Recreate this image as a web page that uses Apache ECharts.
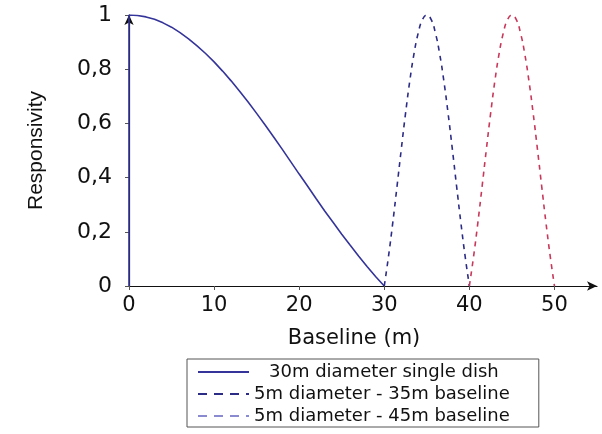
<!DOCTYPE html>
<html>
<head>
<meta charset="utf-8">
<script src="https://cdn.jsdelivr.net/npm/echarts@6/dist/echarts.min.js"></script>
<style>
  html, body { margin: 0; padding: 0; background: #fff; }
  #chart { width: 602px; height: 434px; }
</style>
</head>
<body>
<div id="chart"></div>
<script>
// valeurs
var xTicks = [0, 10, 20, 30, 40, 50];
var yTicks = [0, 0.2, 0.4, 0.6, 0.8, 1];

// 30m single dish (starts with the vertical jump at 0)
var dishX = [0, 0, 1, 2, 3, 4, 5, 6, 7, 8, 9, 10, 11, 12, 13, 14, 15,
  16, 17, 18, 19, 20, 21, 22, 23, 24, 25, 26, 27, 28, 29, 30];
var dishY = [0, 1, 0.998, 0.993, 0.984, 0.971, 0.955, 0.935, 0.912, 0.886, 0.858, 0.827, 0.793,
  0.757, 0.719, 0.679, 0.637, 0.594, 0.55, 0.505, 0.459, 0.413, 0.368, 0.322,
  0.277, 0.234, 0.191, 0.15, 0.11, 0.071, 0.034, 0];

// 5m dishes, 35m baseline
var base35X = [30, 30.5, 31, 31.5, 32, 32.5, 33, 33.5, 34, 34.5, 35,
  35.5, 36, 36.5, 37, 37.5, 38, 38.5, 39, 39.5, 40];
var base35Y = [0, 0.11, 0.234, 0.368, 0.505, 0.637, 0.757, 0.858, 0.935, 0.984, 1,
  0.984, 0.935, 0.858, 0.757, 0.637, 0.505, 0.368, 0.234, 0.11, 0];

// 5m dishes, 45m baseline
var base45X = [40, 40.5, 41, 41.5, 42, 42.5, 43, 43.5, 44, 44.5, 45,
  45.5, 46, 46.5, 47, 47.5, 48, 48.5, 49, 49.5, 50];
var base45Y = [0, 0.11, 0.234, 0.368, 0.505, 0.637, 0.757, 0.858, 0.935, 0.984, 1,
  0.984, 0.935, 0.858, 0.757, 0.637, 0.505, 0.368, 0.234, 0.11, 0];

var seriesNames = ['30m diameter single dish', '5m diameter - 35m baseline', '5m diameter - 45m baseline'];

function pairs(xs, ys) {
  return xs.map(function (x, i) { return [x, ys[i]]; });
}

var font = 'DejaVu Sans, sans-serif';
var myChart = echarts.init(document.getElementById('chart'));

myChart.setOption({
  animation: false,
  grid: { left: 129, right: 5, top: 15, bottom: 148 },
  xAxis: {
    type: 'value',
    min: 0,
    max: 55,
    interval: 10,
    splitLine: { show: false },
    axisLine: { lineStyle: { color: '#111', width: 1.2 }, symbol: ['none', 'arrow'], symbolSize: [7, 10] },
    axisTick: { length: 4, lineStyle: { color: '#555' }, customValues: xTicks },
    axisLabel: { color: '#111', fontFamily: font, fontSize: 21, margin: 9, customValues: xTicks },
    name: 'Baseline (m)',
    nameLocation: 'middle',
    nameGap: 42,
    nameTextStyle: { color: '#111', fontFamily: font, fontSize: 21, padding: [0, 18, 0, 0] }
  },
  yAxis: {
    type: 'value',
    min: 0,
    max: 1,
    interval: 0.2,
    splitLine: { show: false },
    axisLine: { lineStyle: { color: '#111', width: 1.2 }, symbol: ['none', 'arrow'], symbolSize: [7, 10] },
    axisTick: { length: 4, lineStyle: { color: '#555' }, customValues: yTicks },
    axisLabel: {
      color: '#111', fontFamily: font, fontSize: 22, margin: 17, customValues: yTicks,
      formatter: function (v) { return String(+v.toFixed(1)).replace('.', ','); }
    },
    name: 'Responsivity',
    nameLocation: 'middle',
    nameGap: 82,
    nameTextStyle: { color: '#111', fontFamily: 'Liberation Sans, sans-serif', fontSize: 21 }
  },
  legend: {
    orient: 'vertical',
    left: 187,
    top: 359,
    height: 64,
    padding: [4, 29, 2, 10],
    itemWidth: 51,
    itemHeight: 14,
    itemGap: 4,
    borderColor: '#555',
    borderWidth: 1,
    borderRadius: 0,
    itemStyle: { opacity: 0 },
    textStyle: { color: '#111', fontFamily: font, fontSize: 18, lineHeight: 18 },
    data: [
      { name: seriesNames[0], textStyle: { padding: [0, 0, 0, 15] } },
      { name: seriesNames[1], lineStyle: { type: [9, 7] } },
      { name: seriesNames[2], lineStyle: { color: '#8a8ad0', type: [9, 7] } }
    ]
  },
  series: [
    {
      name: seriesNames[0],
      type: 'line',
      data: pairs(dishX, dishY),
      symbol: 'none',
      color: '#34349a',
      lineStyle: { color: '#34349a', width: 1.6 }
    },
    {
      name: seriesNames[1],
      type: 'line',
      smooth: true,
      data: pairs(base35X, base35Y),
      symbol: 'none',
      color: '#2c2c86',
      lineStyle: { color: '#2c2c86', width: 1.6, type: [5, 5] }
    },
    {
      name: seriesNames[2],
      type: 'line',
      smooth: true,
      data: pairs(base45X, base45Y),
      symbol: 'none',
      color: '#c8385a',
      lineStyle: { color: '#c8385a', width: 1.6, type: [5, 5] }
    }
  ]
});
</script>
</body>
</html>
